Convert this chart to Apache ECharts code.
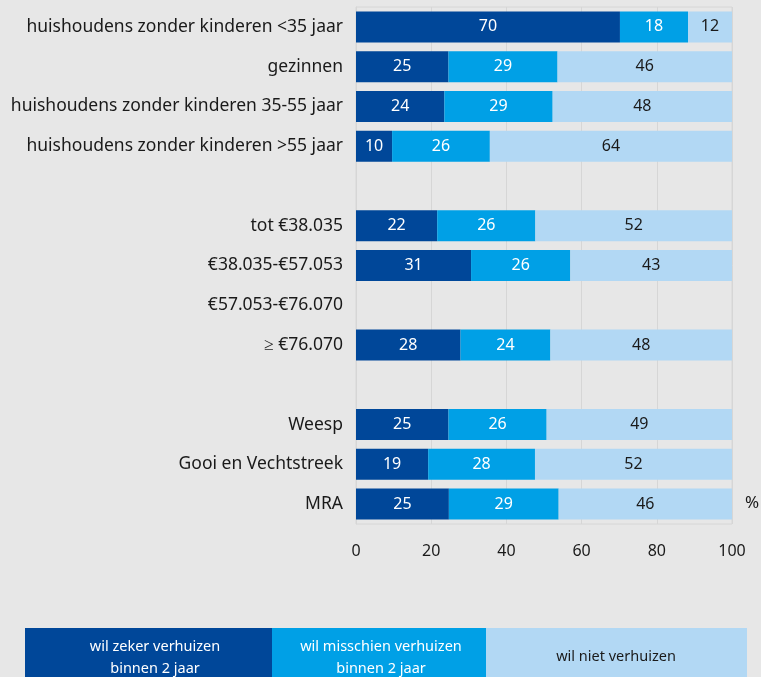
<!DOCTYPE html>
<html>
<head>
<meta charset="utf-8">
<script src="https://cdn.jsdelivr.net/npm/echarts@6/dist/echarts.min.js"></script>
<style>
  html, body { margin: 0; padding: 0; background: #e7e7e7; }
  #chart { width: 761px; height: 677px; }
</style>
</head>
<body>
<div id="chart"></div>
<script>
// categories, top to bottom (blank strings = spacer rows)
var categories = [
  'huishoudens zonder kinderen <35 jaar',
  'gezinnen',
  'huishoudens zonder kinderen 35-55 jaar',
  'huishoudens zonder kinderen >55 jaar',
  ' ',
  'tot €38.035',
  '€38.035-€57.053',
  '€57.053-€76.070',
  '≥ €76.070',
  '  ',
  'Weesp',
  'Gooi en Vechtstreek',
  'MRA'
];
// percentages (labels show them rounded)
var zeker     = [70.2, 24.6, 23.5, 9.6, null, 21.6, 30.6, null, 27.8, null, 24.6, 19.2, 24.7];
var misschien = [18.1, 29.0, 28.8, 26.0, null, 26.1, 26.4, null, 23.9, null, 26.1, 28.4, 29.2];
var niet      = [11.7, 46.4, 47.7, 64.4, null, 52.3, 43.0, null, 48.3, null, 49.3, 52.4, 46.1];
var xTicks = [0, 20, 40, 60, 80, 100];

var colors = ['#004799', '#00a0e6', '#b2d8f4'];
var font = 'Noto Sans';
var legendFont = '14.5px "Noto Sans"';

var myChart = echarts.init(document.getElementById('chart'));

function barSeries(name, data, color, labelColor) {
  return {
    name: name,
    type: 'bar',
    stack: 'total',
    barWidth: 31,
    data: data,
    itemStyle: { color: color },
    label: {
      show: true,
      position: 'inside',
      color: labelColor,
      fontFamily: font,
      fontSize: 16,
      formatter: function (p) { return Math.round(p.value); }
    }
  };
}

myChart.setOption({
  backgroundColor: '#e7e7e7',
  animation: false,
  grid: {
    left: 356,
    right: 29,
    top: 7,
    bottom: 153,
    show: true,
    borderColor: '#d6d6d6',
    borderWidth: 1,
    containLabel: false
  },
  xAxis: {
    type: 'value',
    min: 0,
    max: 100,
    interval: 20,
    axisLine: { show: false },
    axisTick: { show: false },
    splitLine: { lineStyle: { color: '#d6d6d6' } },
    axisLabel: {
      margin: 19,
      color: '#1a1a1a',
      fontFamily: font,
      fontSize: 16,
      formatter: function (v) { return xTicks.indexOf(v) >= 0 ? String(v) : ''; }
    }
  },
  yAxis: {
    type: 'category',
    inverse: true,
    data: categories,
    axisLine: { show: true, lineStyle: { color: '#d6d6d6' } },
    axisTick: { show: false },
    axisLabel: {
      margin: 13,
      color: '#1a1a1a',
      fontFamily: font,
      fontSize: 17.5
    }
  },
  series: [
    barSeries('wil zeker verhuizen binnen 2 jaar', zeker, colors[0], '#ffffff'),
    barSeries('wil misschien verhuizen binnen 2 jaar', misschien, colors[1], '#ffffff'),
    barSeries('wil niet verhuizen', niet, colors[2], '#1a1a1a')
  ],
  graphic: [
    {
      type: 'text', left: 745, top: 495,
      style: { text: '%', fill: '#1a1a1a', font: '17px ' + font }
    },
    // legend boxes
    { type: 'rect', shape: { x: 25, y: 628, width: 247, height: 60 }, style: { fill: colors[0] } },
    { type: 'rect', shape: { x: 272, y: 628, width: 214, height: 60 }, style: { fill: colors[1] } },
    { type: 'rect', shape: { x: 486, y: 628, width: 261, height: 60 }, style: { fill: colors[2] } },
    {
      type: 'text', x: 155, y: 658,
      style: {
        text: 'wil zeker verhuizen\nbinnen 2 jaar', fill: '#ffffff',
        font: legendFont, align: 'center', verticalAlign: 'middle', lineHeight: 22
      }
    },
    {
      type: 'text', x: 381, y: 658,
      style: {
        text: 'wil misschien verhuizen\nbinnen 2 jaar', fill: '#ffffff',
        font: legendFont, align: 'center', verticalAlign: 'middle', lineHeight: 22
      }
    },
    {
      type: 'text', x: 616, y: 657,
      style: {
        text: 'wil niet verhuizen', fill: '#1a1a1a',
        font: legendFont, align: 'center', verticalAlign: 'middle'
      }
    }
  ]
});
</script>
</body>
</html>
